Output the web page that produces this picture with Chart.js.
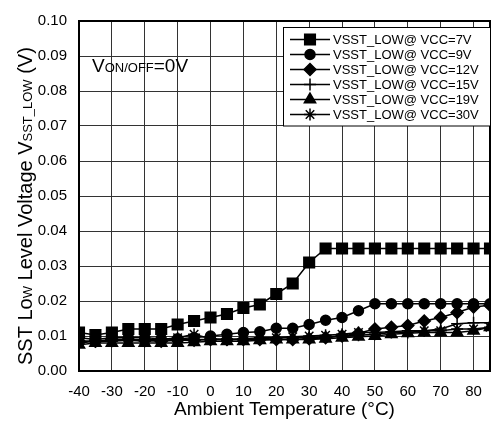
<!DOCTYPE html>
<html>
<head>
<meta charset="utf-8">
<script src="https://cdn.jsdelivr.net/npm/chart.js@4/dist/chart.umd.min.js"></script>
<style>
  html, body { margin: 0; padding: 0; background: #fff; }
  #wrap { width: 499px; height: 422px; }
</style>
</head>
<body>
<div id="wrap"><canvas id="chart" width="499" height="422"></canvas></div>
<script>
// temperatures (°C), one point every 5 degrees
const temps = [-40, -35, -30, -25, -20, -15, -10, -5, 0, 5, 10, 15, 20, 25, 30, 35, 40, 45, 50, 55, 60, 65, 70, 75, 80, 85];
const xTicks = [-40, -30, -20, -10, 0, 10, 20, 30, 40, 50, 60, 70, 80];
const yTicks = [0, 0.01, 0.02, 0.03, 0.04, 0.05, 0.06, 0.07, 0.08, 0.09, 0.10];

const seriesLabels = ["VSST_LOW@ VCC=7V", "VSST_LOW@ VCC=9V", "VSST_LOW@ VCC=12V",
                      "VSST_LOW@ VCC=15V", "VSST_LOW@ VCC=19V", "VSST_LOW@ VCC=30V"];

const vcc7  = [0.011, 0.0103, 0.011, 0.012, 0.012, 0.012, 0.0133, 0.0143, 0.0153, 0.0163, 0.018, 0.019, 0.022, 0.025, 0.031, 0.035,
               0.035, 0.035, 0.035, 0.035, 0.035, 0.035, 0.035, 0.035, 0.035, 0.035];
const vcc9  = [0.0095, 0.009, 0.0095, 0.0095, 0.0095, 0.0092, 0.0092, 0.0095, 0.010, 0.0105, 0.011, 0.0112, 0.0122, 0.0122, 0.0133, 0.0145,
               0.0153, 0.0172, 0.0192, 0.0192, 0.0192, 0.0192, 0.0192, 0.0192, 0.0192, 0.0192];
const vcc12 = [0.0085, 0.0085, 0.009, 0.009, 0.0088, 0.0085, 0.0088, 0.0088, 0.009, 0.009, 0.009, 0.009, 0.009, 0.009, 0.0092, 0.0095,
               0.010, 0.0108, 0.012, 0.0125, 0.013, 0.0143, 0.0153, 0.0167, 0.0183, 0.0188];
const vcc15 = [0.0085, 0.0085, 0.0088, 0.0088, 0.0085, 0.0088, 0.009, 0.009, 0.009, 0.009, 0.009, 0.0092, 0.0095, 0.0095, 0.0095, 0.0098,
               0.010, 0.0102, 0.0105, 0.011, 0.011, 0.0115, 0.012, 0.0135, 0.0138, 0.0138];
const vcc19 = [0.0075, 0.008, 0.008, 0.008, 0.008, 0.008, 0.008, 0.0082, 0.0085, 0.0085, 0.0085, 0.0088, 0.009, 0.009, 0.009, 0.0092,
               0.0095, 0.0098, 0.010, 0.0105, 0.0108, 0.011, 0.011, 0.011, 0.0115, 0.0125];
const vcc30 = [0.008, 0.0085, 0.0085, 0.0088, 0.009, 0.009, 0.0095, 0.0105, 0.0092, 0.009, 0.0092, 0.0095, 0.0095, 0.0098, 0.010, 0.0102,
               0.0105, 0.011, 0.011, 0.0112, 0.0115, 0.0115, 0.0115, 0.012, 0.012, 0.0125];

const FONT = "'Liberation Sans', Arial, sans-serif";
const seriesValues = [vcc7, vcc9, vcc12, vcc15, vcc19, vcc30];
const markers = [
  { style: "rect", r: 7.5 },
  { style: "circle", r: 5 },
  { style: "rectRot", r: 6 },
  { style: "cross", r: 6 },
  { style: "triangle", r: 6.5 },
  { style: "star", r: 6 }
];

const datasets = seriesValues.map((vals, i) => ({
  label: seriesLabels[i],
  data: temps.map((t, j) => ({ x: t, y: vals[j] })),
  borderColor: "#000",
  backgroundColor: "#000",
  borderWidth: 1.5,
  pointStyle: markers[i].style,
  pointRadius: markers[i].r,
  pointBorderWidth: 1.5,
  pointBackgroundColor: "#000",
  pointBorderColor: "#000",
  tension: 0
}));

// frame, y title with subscripts, V_ON/OFF note and the boxed legend
const decor = {
  id: "decor",
  beforeDatasetsDraw(chart) {
    const { ctx, chartArea: a } = chart;
    ctx.save();
    ctx.strokeStyle = "#000";
    ctx.lineWidth = 2;
    ctx.strokeRect(a.left, a.top, a.right - a.left, a.bottom - a.top);
    ctx.restore();
  },
  afterDatasetsDraw(chart) {
    const { ctx } = chart;
    ctx.save();
    ctx.fillStyle = "#000";
    ctx.textBaseline = "alphabetic";

    // V ON/OFF = 0V
    let x = 92;
    [["V", 19], ["ON/OFF", 13], ["=0V", 19]].forEach(([s, size]) => {
      ctx.font = size + "px " + FONT;
      ctx.fillText(s, x, 71.5);
      x += ctx.measureText(s).width;
    });

    // y axis title
    ctx.save();
    ctx.translate(32, 365);
    ctx.rotate(-Math.PI / 2);
    x = 0;
    [["SST Lo", 20], ["W", 13], [" Level Voltage V", 20], ["SST_LOW", 13], [" (V)", 20]].forEach(([s, size]) => {
      ctx.font = size + "px " + FONT;
      ctx.fillText(s, x, 0);
      x += ctx.measureText(s).width;
    });
    ctx.restore();

    // legend
    const bx = 283.5, by = 27.5, bw = 207, bh = 98.5;
    ctx.fillStyle = "#fff";
    ctx.fillRect(bx, by, bw, bh);
    ctx.strokeStyle = "#000";
    ctx.lineWidth = 1;
    ctx.strokeRect(bx, by, bw, bh);
    ctx.font = "13px " + FONT;
    ctx.textBaseline = "middle";
    seriesLabels.forEach((lab, i) => {
      const y = 39.5 + i * 15;
      ctx.strokeStyle = "#000";
      ctx.fillStyle = "#000";
      ctx.lineWidth = 1.5;
      ctx.beginPath();
      ctx.moveTo(290, y);
      ctx.lineTo(330, y);
      ctx.stroke();
      Chart.helpers.drawPoint(ctx, { pointStyle: markers[i].style, radius: markers[i].r, borderWidth: 1.5, rotation: 0 }, 310, y);
      ctx.fillText(lab, 333, y + 0.5);
    });
    ctx.restore();
  }
};

new Chart(document.getElementById("chart"), {
  type: "line",
  data: { datasets },
  plugins: [decor],
  options: {
    responsive: false,
    animation: false,
    layout: { padding: { left: 0, top: 15, right: 4, bottom: 0 } },
    plugins: { legend: { display: false }, tooltip: { enabled: false } },
    scales: {
      x: {
        type: "linear",
        min: -40,
        max: 85,
        afterBuildTicks: s => { s.ticks = xTicks.map(v => ({ value: v })); },
        afterFit: s => { s.height = 51; },
        grid: { color: "#333", lineWidth: 1, drawTicks: false },
        border: { color: "#000", width: 2 },
        ticks: { color: "#000", padding: 12, font: { family: FONT, size: 15 }, maxRotation: 0 },
        title: { display: true, text: "Ambient Temperature (°C)", color: "#000", padding: { top: 2, bottom: 1 }, font: { family: FONT, size: 19 } }
      },
      y: {
        min: 0,
        max: 0.10,
        afterBuildTicks: s => { s.ticks = yTicks.map(v => ({ value: v })); },
        afterFit: s => { s.width = 79; },
        grid: { color: "#333", lineWidth: 1, drawTicks: false },
        border: { color: "#000", width: 2 },
        ticks: { color: "#000", padding: 12, font: { family: FONT, size: 15 }, callback: v => v.toFixed(2) }
      }
    }
  }
});
</script>
</body>
</html>
